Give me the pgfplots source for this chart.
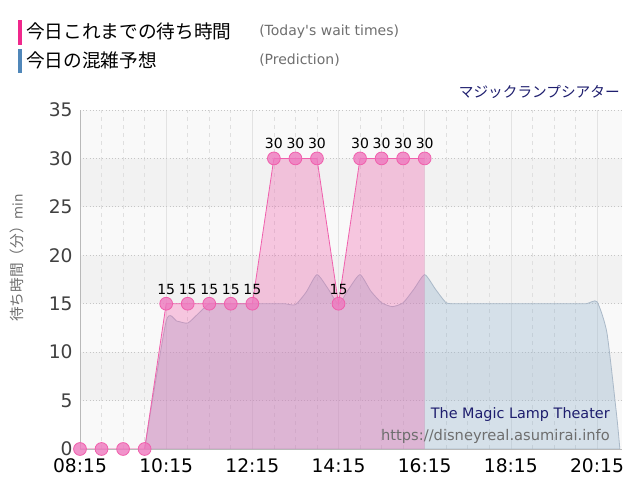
\documentclass[border=0pt]{standalone}
\usepackage{fontspec}
\setmainfont{DejaVu Sans}
\newfontfamily\cjk{Noto Sans CJK JP}
\usepackage{pgfplots}
\pgfplotsset{compat=1.18}
\definecolor{pinkline}{RGB}{240,95,172}
\definecolor{pinkmark}{RGB}{238,120,190}
\definecolor{predfill}{RGB}{150,180,205}
\definecolor{prededge}{RGB}{170,185,200}
\definecolor{banddark}{RGB}{242,242,242}
\definecolor{bandlight}{RGB}{249,249,249}
\definecolor{legpink}{RGB}{240,40,140}
\definecolor{legblue}{RGB}{80,135,185}
\definecolor{navy}{RGB}{30,30,110}
\definecolor{txtgray}{RGB}{110,110,110}
\begin{document}
\begin{tikzpicture}
\path (0,0) rectangle (480pt,375pt);
\begin{axis}[
  set layers=standard,
  scale only axis, width=406.5pt, height=254.25pt,
  at={(60pt,38.25pt)}, anchor=south west,
  xmin=8.25, xmax=20.83, ymin=0, ymax=35,
  axis background/.style={fill=bandlight},
  axis lines*=left,
  axis line style={draw=gray!55, line width=0.6pt},
  xtick={8.25,10.25,12.25,14.25,16.25,18.25,20.25},
  xticklabels={08:15,10:15,12:15,14:15,16:15,18:15,20:15},
  minor x tick num=3,
  ytick={0,5,...,35},
  tick style={draw=none},
  major tick length=0pt, minor tick length=0pt,
  xmajorgrids, xminorgrids, ymajorgrids,
  major x grid style={gray!22, line width=0.5pt},
  minor x grid style={gray!25, dashed, line width=0.5pt},
  major y grid style={gray!45, dotted, line width=0.6pt},
  /pgf/number format/assume math mode=true,
  tick label style={font=\fontsize{14}{16}\selectfont},
  x tick label style={black, yshift=-4pt},
  y tick label style={color=black!75, xshift=-2pt},
  clip=true,
]
\addplot[fill=banddark, draw=none, on layer=axis background] coordinates {(8.25,5) (20.83,5) (20.83,10) (8.25,10) (8.25,5)};
\addplot[fill=banddark, draw=none, on layer=axis background] coordinates {(8.25,15) (20.83,15) (20.83,20) (8.25,20) (8.25,15)};
\addplot[fill=banddark, draw=none, on layer=axis background] coordinates {(8.25,25) (20.83,25) (20.83,30) (8.25,30) (8.25,25)};
% prediction
\addplot[smooth, tension=0.35, draw=prededge, line width=0.6pt, fill=predfill, fill opacity=0.36] coordinates {
(9.75,0) (10.25,13.2) (10.5,13.2) (10.75,13.0) (11.0,14.0) (11.25,15.0) (11.5,15.0) (11.75,15.0)
(12.0,15.0) (12.25,15.0) (12.5,15.0) (12.75,15.0) (13.0,15.0) (13.25,14.9) (13.5,16.2)
(13.75,18.0) (14.0,16.6) (14.25,15.0) (14.5,16.6) (14.75,18.0) (15.0,16.3) (15.25,15.1)
(15.5,14.7) (15.75,15.1) (16.0,16.5) (16.25,18.0) (16.5,16.5) (16.75,15.1) (17.0,15.0)
(17.5,15.0) (18.0,15.0) (18.5,15.0) (19.0,15.0) (19.5,15.0) (20.0,15.0) (20.25,15.2)
(20.48,12.0) (20.71,3.3) (20.78,0)
} \closedcycle;
% actual wait fill
\addplot[draw=none, fill=pinkline, fill opacity=0.33] coordinates {
(8.25,0) (8.75,0) (9.25,0) (9.75,0) (10.25,15) (10.75,15) (11.25,15) (11.75,15) (12.25,15)
(12.75,30) (13.25,30) (13.75,30) (14.25,15) (14.75,30) (15.25,30) (15.75,30) (16.25,30)
} \closedcycle;
% actual line + markers
\addplot[pinkline, line width=0.6pt, mark=*, mark size=4.8pt,
  mark options={draw=none, fill=pinkmark, fill opacity=0.8}] coordinates {
(8.25,0) (8.75,0) (9.25,0) (9.75,0) (10.25,15) (10.75,15) (11.25,15) (11.75,15) (12.25,15)
(12.75,30) (13.25,30) (13.75,30) (14.25,15) (14.75,30) (15.25,30) (15.75,30) (16.25,30)
};
% value labels
\addplot[only marks, mark size=0pt, nodes near coords, point meta=explicit symbolic,
  every node near coord/.append style={font=\fontsize{10.5}{12}\selectfont, black, anchor=south, yshift=3.5pt}]
coordinates {
(10.25,15)[15] (10.75,15)[15] (11.25,15)[15] (11.75,15)[15] (12.25,15)[15]
(12.75,30)[30] (13.25,30)[30] (13.75,30)[30] (14.25,15)[15] (14.75,30)[30] (15.25,30)[30] (15.75,30)[30] (16.25,30)[30]
};
\end{axis}
% legend
\fill[legpink] (13.5pt,341.25pt) rectangle (16.5pt,360pt);
\fill[legblue] (13.5pt,320.25pt) rectangle (16.5pt,338.25pt);
\node[anchor=west, inner sep=0pt, font=\cjk\fontsize{14}{16}\selectfont] at (19.5pt,351.5pt) {今日これまでの待ち時間};
\node[anchor=west, inner sep=0pt, font=\cjk\fontsize{14}{16}\selectfont] at (19.5pt,329.75pt) {今日の混雑予想};
\node[anchor=west, inner sep=0pt, text=txtgray, font=\fontsize{10.5}{12}\selectfont] at (194.25pt,351.5pt) {(Today\textquotesingle s wait times)};
\node[anchor=west, inner sep=0pt, text=txtgray, font=\fontsize{10.5}{12}\selectfont] at (194.25pt,329.75pt) {(Prediction)};
% title
\node[anchor=east, inner sep=0pt, text=navy, font=\cjk\fontsize{11}{13}\selectfont] at (465pt,306pt) {マジックランプシアター};
% watermark
\node[anchor=east, inner sep=0pt, text=navy, font=\fontsize{10.8}{12}\selectfont] at (457.5pt,63.75pt) {The Magic Lamp Theater};
\node[anchor=east, inner sep=0pt, text=txtgray, font=\fontsize{11}{12}\selectfont] at (457.5pt,48pt) {https://disneyreal.asumirai.info};
% y label
\node[rotate=90, inner sep=0pt, text=txtgray] at (12.75pt,181.5pt) {{\cjk\fontsize{11}{13}\selectfont 待ち時間（分）}{\fontsize{10}{11}\selectfont min}};
\end{tikzpicture}
\end{document}
